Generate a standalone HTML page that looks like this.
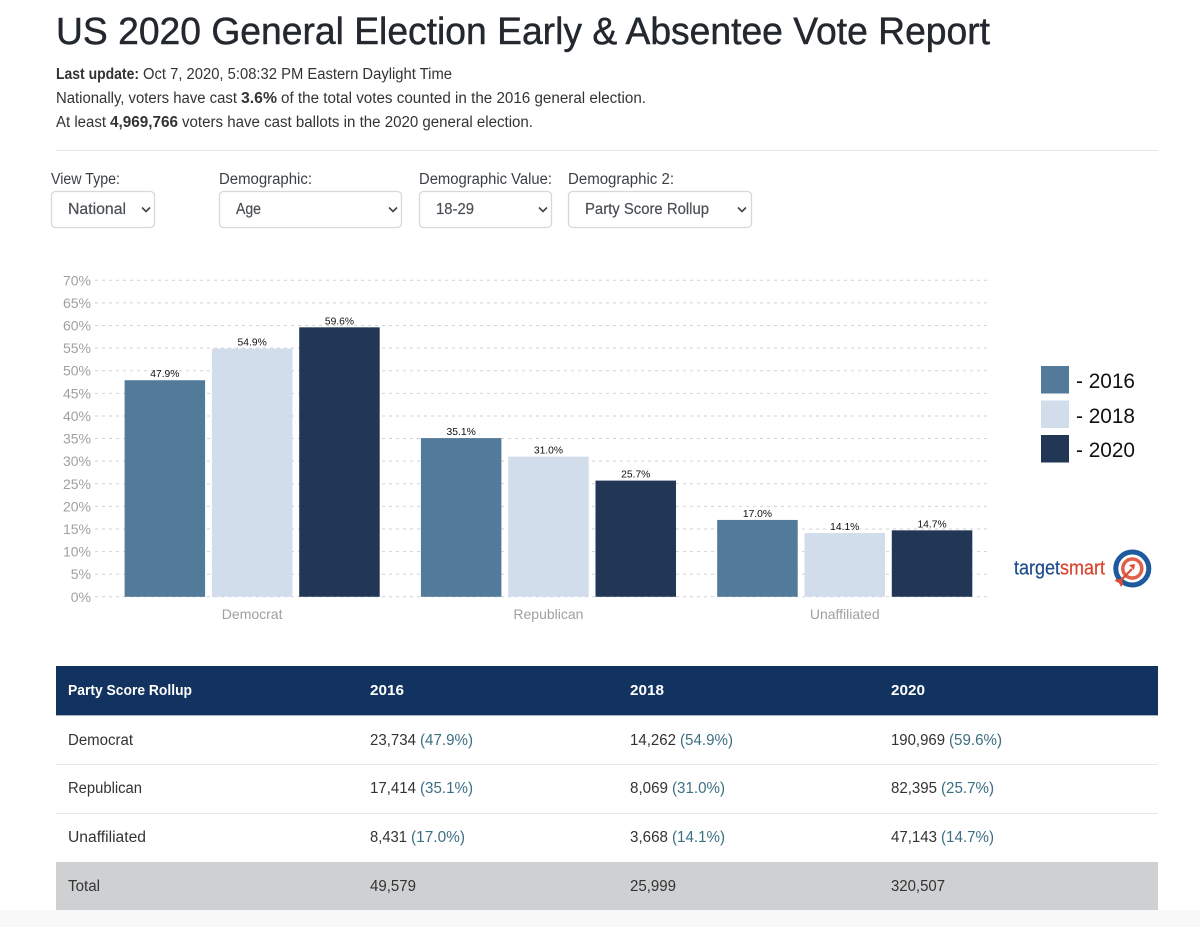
<!DOCTYPE html>
<html lang="en">
<head>
<meta charset="utf-8">
<title>US 2020 General Election Early &amp; Absentee Vote Report</title>
<style>
html,body{margin:0;padding:0;background:#fff;width:1200px;height:927px;overflow:hidden}
svg{display:block}
text{font-family:"Liberation Sans",sans-serif}
.t{font-size:15.5px;fill:#333}
.b{font-weight:bold}
.p{font-size:15.5px;fill:#3d6f82}
.l{font-size:15.5px;fill:#3a3f45}
.s{font-size:15.5px;fill:#4a4f55;stroke:#4a4f55;stroke-width:.2}
.h{font-size:15px;font-weight:bold;fill:#fff}
.sel{fill:#fff;stroke:#d5d8dc;stroke-width:1.3}
.chev{fill:none;stroke:#444;stroke-width:1.6}
</style>
</head>
<body>
<svg id="page" xmlns="http://www.w3.org/2000/svg" width="1200" height="927" viewBox="0 0 1200 927">
  <text x="56" y="44" font-size="38" fill="#23282e" stroke="#23282e" stroke-width=".45" textLength="934" lengthAdjust="spacingAndGlyphs">US 2020 General Election Early &amp; Absentee Vote Report</text>

  <g>
    <text class="t b" x="56" y="79" textLength="83" lengthAdjust="spacingAndGlyphs">Last update:</text>
    <text class="t" x="143" y="79" textLength="309" lengthAdjust="spacingAndGlyphs">Oct 7, 2020, 5:08:32 PM Eastern Daylight Time</text>
    <text class="t" x="56" y="103" textLength="181" lengthAdjust="spacingAndGlyphs">Nationally, voters have cast</text>
    <text class="t b" x="241" y="103" textLength="36" lengthAdjust="spacingAndGlyphs">3.6%</text>
    <text class="t" x="281" y="103" textLength="365" lengthAdjust="spacingAndGlyphs">of the total votes counted in the 2016 general election.</text>
    <text class="t" x="56" y="127" textLength="50" lengthAdjust="spacingAndGlyphs">At least</text>
    <text class="t b" x="110" y="127" textLength="68" lengthAdjust="spacingAndGlyphs">4,969,766</text>
    <text class="t" x="182" y="127" textLength="351" lengthAdjust="spacingAndGlyphs">voters have cast ballots in the 2020 general election.</text>
  </g>
  <rect x="56" y="150" width="1102" height="1" fill="#e6e6e6"/>

  <g>
    <text class="l" x="51" y="184" textLength="69" lengthAdjust="spacingAndGlyphs">View Type:</text>
    <g>
      <rect class="sel" x="51.5" y="191.5" width="103" height="36" rx="4"/>
      <text class="s" x="68" y="214" textLength="58" lengthAdjust="spacingAndGlyphs">National</text>
      <path class="chev" d="M142 207.5l4 4 4-4"/>
    </g>
    <text class="l" x="219" y="184" textLength="93" lengthAdjust="spacingAndGlyphs">Demographic:</text>
    <g>
      <rect class="sel" x="219.5" y="191.5" width="182" height="36" rx="4"/>
      <text class="s" x="236" y="214" textLength="25" lengthAdjust="spacingAndGlyphs">Age</text>
      <path class="chev" d="M389 207.5l4 4 4-4"/>
    </g>
    <text class="l" x="419" y="184" textLength="133" lengthAdjust="spacingAndGlyphs">Demographic Value:</text>
    <g>
      <rect class="sel" x="419.5" y="191.5" width="132" height="36" rx="4"/>
      <text class="s" x="436" y="214" textLength="38" lengthAdjust="spacingAndGlyphs">18-29</text>
      <path class="chev" d="M539 207.5l4 4 4-4"/>
    </g>
    <text class="l" x="568" y="184" textLength="106" lengthAdjust="spacingAndGlyphs">Demographic 2:</text>
    <g>
      <rect class="sel" x="568.5" y="191.5" width="183" height="36" rx="4"/>
      <text class="s" x="585" y="214" textLength="124" lengthAdjust="spacingAndGlyphs">Party Score Rollup</text>
      <path class="chev" d="M738 207.5l4 4 4-4"/>
    </g>
  </g>

  <g id="chart">
    <g id="grid-layer"></g>
    <g id="y-layer"></g>
    <g id="bar-layer"></g>
    <g id="x-layer"></g>
  </g>

  <g>
    <g>
      <rect x="1041" y="366" width="28" height="27.5" fill="#527a9b"/>
      <text x="1076" y="388" font-size="21.5" fill="#111" textLength="59" lengthAdjust="spacingAndGlyphs">- 2016</text>
    </g>
    <g>
      <rect x="1041" y="400.5" width="28" height="27.5" fill="#d2ddec"/>
      <text x="1076" y="423" font-size="21.5" fill="#111" textLength="59" lengthAdjust="spacingAndGlyphs">- 2018</text>
    </g>
    <g>
      <rect x="1041" y="435" width="28" height="27.5" fill="#223755"/>
      <text x="1076" y="457" font-size="21.5" fill="#111" textLength="59" lengthAdjust="spacingAndGlyphs">- 2020</text>
    </g>
  </g>

  <g>
    <text x="1014" y="574.5" font-size="20" stroke-width=".25" textLength="91" lengthAdjust="spacingAndGlyphs"><tspan fill="#1f4e8c" stroke="#1f4e8c">target</tspan><tspan fill="#d9452f" stroke="#d9452f">smart</tspan></text>
    <g>
      <circle cx="1132.3" cy="568.5" r="16.5" fill="#fff" stroke="#1f5a9e" stroke-width="5"/>
      <circle cx="1132.3" cy="568.5" r="9.5" fill="#fff" stroke="#e0604a" stroke-width="3.5"/>
      <path d="M1120 581L1132 569" stroke="#dd4b33" stroke-width="2.2"/>
      <path d="M1129 565l6-1-1 6z" fill="#dd4b33"/>
      <path d="M1116 579l6 0 1 5-2 3-2-4-4-2z" fill="#dd4b33"/>
    </g>
  </g>

  <g>
    <g>
      <rect x="56" y="666" width="1102" height="49" fill="#12325f"/>
      <rect x="56" y="715" width="1102" height="1" fill="#a9b4c0"/>
      <text class="h" x="68" y="695" textLength="124" lengthAdjust="spacingAndGlyphs">Party Score Rollup</text>
      <text class="h" x="370" y="695" textLength="34" lengthAdjust="spacingAndGlyphs">2016</text>
      <text class="h" x="630" y="695" textLength="34" lengthAdjust="spacingAndGlyphs">2018</text>
      <text class="h" x="891" y="695" textLength="34" lengthAdjust="spacingAndGlyphs">2020</text>
    </g>
    <g>
      <text class="t" x="68" y="745" textLength="65" lengthAdjust="spacingAndGlyphs">Democrat</text>
      <text class="t" x="370" y="745" textLength="46" lengthAdjust="spacingAndGlyphs">23,734</text>
      <text class="p" x="420" y="745" textLength="53" lengthAdjust="spacingAndGlyphs">(47.9%)</text>
      <text class="t" x="630" y="745" textLength="46" lengthAdjust="spacingAndGlyphs">14,262</text>
      <text class="p" x="680" y="745" textLength="53" lengthAdjust="spacingAndGlyphs">(54.9%)</text>
      <text class="t" x="891" y="745" textLength="54" lengthAdjust="spacingAndGlyphs">190,969</text>
      <text class="p" x="949" y="745" textLength="53" lengthAdjust="spacingAndGlyphs">(59.6%)</text>
      <rect x="56" y="764" width="1102" height="1" fill="#e4e6e8"/>
    </g>
    <g>
      <text class="t" x="68" y="793" textLength="74" lengthAdjust="spacingAndGlyphs">Republican</text>
      <text class="t" x="370" y="793" textLength="46" lengthAdjust="spacingAndGlyphs">17,414</text>
      <text class="p" x="420" y="793" textLength="53" lengthAdjust="spacingAndGlyphs">(35.1%)</text>
      <text class="t" x="630" y="793" textLength="38" lengthAdjust="spacingAndGlyphs">8,069</text>
      <text class="p" x="672" y="793" textLength="53" lengthAdjust="spacingAndGlyphs">(31.0%)</text>
      <text class="t" x="891" y="793" textLength="46" lengthAdjust="spacingAndGlyphs">82,395</text>
      <text class="p" x="941" y="793" textLength="53" lengthAdjust="spacingAndGlyphs">(25.7%)</text>
      <rect x="56" y="813" width="1102" height="1" fill="#e4e6e8"/>
    </g>
    <g>
      <text class="t" x="68" y="842" textLength="78" lengthAdjust="spacingAndGlyphs">Unaffiliated</text>
      <text class="t" x="370" y="842" textLength="37" lengthAdjust="spacingAndGlyphs">8,431</text>
      <text class="p" x="411" y="842" textLength="54" lengthAdjust="spacingAndGlyphs">(17.0%)</text>
      <text class="t" x="630" y="842" textLength="38" lengthAdjust="spacingAndGlyphs">3,668</text>
      <text class="p" x="672" y="842" textLength="53" lengthAdjust="spacingAndGlyphs">(14.1%)</text>
      <text class="t" x="891" y="842" textLength="46" lengthAdjust="spacingAndGlyphs">47,143</text>
      <text class="p" x="941" y="842" textLength="53" lengthAdjust="spacingAndGlyphs">(14.7%)</text>
    </g>
    <g>
      <rect x="56" y="862" width="1102" height="48" fill="#cfd0d2"/>
      <text class="t" x="68" y="891" textLength="32" lengthAdjust="spacingAndGlyphs">Total</text>
      <text class="t" x="370" y="891" textLength="46" lengthAdjust="spacingAndGlyphs">49,579</text>
      <text class="t" x="630" y="891" textLength="46" lengthAdjust="spacingAndGlyphs">25,999</text>
      <text class="t" x="891" y="891" textLength="54" lengthAdjust="spacingAndGlyphs">320,507</text>
    </g>
  </g>
  <rect x="0" y="910" width="1200" height="17" fill="#f8f8f8"/>
</svg>
<script>
var categories = ["Democrat", "Republican", "Unaffiliated"];
var seriesNames = ["2016", "2018", "2020"];
var values2016 = [47.9, 35.1, 17.0];
var values2018 = [54.9, 31.0, 14.1];
var values2020 = [59.6, 25.7, 14.7];
var yTickLabels = ["0%", "5%", "10%", "15%", "20%", "25%", "30%", "35%", "40%", "45%", "50%", "55%", "60%", "65%", "70%"];

var NS = "http://www.w3.org/2000/svg";
var seriesValues = [values2016, values2018, values2020];
var seriesColors = ["#527a9b", "#d2ddec", "#223755"];
var yMax = 70, yBottom = 596.8, yTop = 280.3;
var bandLeft = 104, bandWidth = 296.3, barStep = 87.3, barWidth = 80.5;
function yScale(v) { return yBottom - (v / yMax) * (yBottom - yTop); }
function bandCenter(i) { return bandLeft + bandWidth * (i + 0.5); }
function barLeft(i, j) { return bandCenter(i) + (j - 1) * barStep - barWidth / 2; }
function mk(tag, parent) {
  var el = document.createElementNS(NS, tag);
  parent.appendChild(el);
  return el;
}
var gridLayer = document.getElementById("grid-layer");
var yLayer = document.getElementById("y-layer");
var barLayer = document.getElementById("bar-layer");
var xLayer = document.getElementById("x-layer");

yTickLabels.forEach(function (label) {
  var v = parseFloat(label);
  var line = mk("line", gridLayer);
  
  
  line.setAttribute("x1", 95);
  line.setAttribute("x2", 990);
  line.setAttribute("y1", yScale(v));
  line.setAttribute("y2", yScale(v));
  line.setAttribute("stroke", "#d2d2d2");
  line.setAttribute("stroke-width", "1");
  line.setAttribute("stroke-dasharray", "3 4");
  var t = mk("text", yLayer);
  
  
  t.setAttribute("x", 91);
  t.setAttribute("y", yScale(v) + 5);
  t.setAttribute("text-anchor", "end");
  t.setAttribute("font-size", "14");
  t.setAttribute("fill", "#a0a0a0");
  t.textContent = label;
});

categories.forEach(function (cat, i) {
  seriesValues.forEach(function (vals, j) {
    var r = mk("rect", barLayer);
    
    
    r.setAttribute("x", barLeft(i, j));
    r.setAttribute("y", yScale(vals[i]));
    r.setAttribute("width", barWidth);
    r.setAttribute("height", yBottom - yScale(vals[i]));
    r.setAttribute("fill", seriesColors[j]);
    var t = mk("text", barLayer);
    
    
    t.setAttribute("x", barLeft(i, j) + barWidth / 2);
    t.setAttribute("y", yScale(vals[i]) - 3);
    t.setAttribute("text-anchor", "middle");
    t.setAttribute("font-size", "10.3");
    t.setAttribute("fill", "#111");
    t.textContent = vals[i].toFixed(1) + "%";
  });
  var c = mk("text", xLayer);
  
  
  c.setAttribute("x", bandCenter(i));
  c.setAttribute("y", 619);
  c.setAttribute("text-anchor", "middle");
  c.setAttribute("font-size", "14");
  c.setAttribute("fill", "#a0a0a0");
  c.textContent = cat;
});
</script>
</body>
</html>
